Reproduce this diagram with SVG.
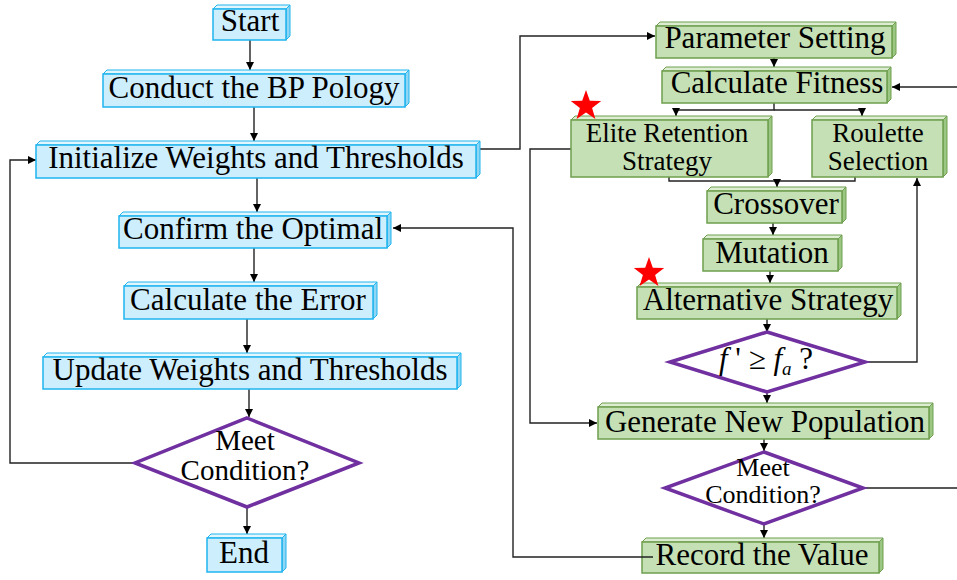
<svg xmlns="http://www.w3.org/2000/svg" width="957" height="580" viewBox="0 0 957 580">
<style>
text{font-family:"Liberation Serif","Times New Roman",serif;font-size:31px;fill:#000;text-anchor:middle}
.dt{font-size:29px}
.t2{font-size:27px}
.dt2{font-size:26px}
.b .f{fill:#CDEEFD;stroke:#1FB4EE;stroke-width:1.5}
.b .t{fill:#E2F6FE;stroke:#1FB4EE;stroke-width:1}
.b .r{fill:#8FD6F5;stroke:#1FB4EE;stroke-width:1}
.g .f{fill:#C5E0B4;stroke:#6E9F4E;stroke-width:1.5}
.g .t{fill:#DCEDD2;stroke:#6E9F4E;stroke-width:1}
.g .r{fill:#9CC783;stroke:#6E9F4E;stroke-width:1}
.d{fill:#fff;stroke:#7030A0;stroke-width:3.5}
.c path{fill:none;stroke:#222;stroke-width:1.4}
.star{fill:#FF0000}
</style>
<defs>
<marker id="a" viewBox="0 0 10 10" refX="10" refY="5" markerWidth="8" markerHeight="8" markerUnits="userSpaceOnUse" orient="auto"><path d="M0,0L10,5L0,10z" fill="#000"/></marker>
</defs>

<g class="c" id="connectors">
<path d="M250,40V70" marker-end="url(#a)"/>
<path d="M254,107V141" marker-end="url(#a)"/>
<path d="M257,178V212" marker-end="url(#a)"/>
<path d="M254,248V282" marker-end="url(#a)"/>
<path d="M247,319V353" marker-end="url(#a)"/>
<path d="M249,389V417" marker-end="url(#a)"/>
<path d="M247,507V534" marker-end="url(#a)"/>
<path d="M135,463H10V160H36" marker-end="url(#a)"/>
<path d="M476,149H520V36H655" marker-end="url(#a)"/>
<path d="M774,58V67" marker-end="url(#a)"/>
<path d="M774,103V110H676V116" marker-end="url(#a)"/>
<path d="M774,110H862V116" marker-end="url(#a)"/>
<path d="M669,177V181H855V177"/>
<path d="M777,181V187" marker-end="url(#a)"/>
<path d="M773,223V235" marker-end="url(#a)"/>
<path d="M770,271V283" marker-end="url(#a)"/>
<path d="M767,319V332" marker-end="url(#a)"/>
<path d="M865,362H917V178" marker-end="url(#a)"/>
<path d="M767,392V403" marker-end="url(#a)"/>
<path d="M571,149H530V423H597" marker-end="url(#a)"/>
<path d="M764,439V451" marker-end="url(#a)"/>
<path d="M863,488H962V87H892" marker-end="url(#a)"/>
<path d="M764,524V538" marker-end="url(#a)"/>
</g>

<g id="start" class="b">
<polygon class="t" points="213,9 217,5 290,5 286,9"/><polygon class="r" points="286,9 290,5 290,36 286,40"/><rect class="f" x="213" y="9" width="73" height="31"/>
<text x="250" y="31">Start</text></g>
<g id="conduct" class="b">
<polygon class="t" points="103,74 107,70 409,70 405,74"/><polygon class="r" points="405,74 409,70 409,103 405,107"/><rect class="f" x="103" y="74" width="302" height="33"/>
<text x="254" y="98">Conduct the BP Pology</text></g>
<g id="init" class="b">
<polygon class="t" points="36,145 40,141 480,141 476,145"/><polygon class="r" points="476,145 480,141 480,174 476,178"/><rect class="f" x="36" y="145" width="440" height="33"/>
<text x="256" y="168">Initialize Weights and Thresholds</text></g>
<g id="confirm" class="b">
<polygon class="t" points="119,216 123,212 391,212 387,216"/><polygon class="r" points="387,216 391,212 391,244 387,248"/><rect class="f" x="119" y="216" width="268" height="32"/>
<text x="253" y="239">Confirm the Optimal</text></g>
<g id="calcerror" class="b">
<polygon class="t" points="124,286 128,282 377,282 373,286"/><polygon class="r" points="373,286 377,282 377,315 373,319"/><rect class="f" x="124" y="286" width="249" height="33"/>
<text x="248" y="310">Calculate the Error</text></g>
<g id="update" class="b">
<polygon class="t" points="43,357 47,353 461,353 457,357"/><polygon class="r" points="457,357 461,353 461,385 457,389"/><rect class="f" x="43" y="357" width="414" height="32"/>
<text x="250" y="380">Update Weights and Thresholds</text></g>
<g id="meet1">
<polygon class="d" points="247,418 359,463 247,507 135,463"/>
<text class="dt" x="245" y="450">Meet<tspan x="245" dy="30">Condition?</tspan></text></g>
<g id="end" class="b">
<polygon class="t" points="207,538 211,534 286,534 282,538"/><polygon class="r" points="282,538 286,534 286,568 282,572"/><rect class="f" x="207" y="538" width="75" height="34"/>
<text x="244" y="563">End</text></g>

<g id="param" class="g">
<polygon class="t" points="656,26 660,22 896,22 892,26"/><polygon class="r" points="892,26 896,22 896,54 892,58"/><rect class="f" x="656" y="26" width="236" height="32"/>
<text x="775" y="48">Parameter Setting</text></g>
<g id="fitness" class="g">
<polygon class="t" points="662,71 666,67 891,67 887,71"/><polygon class="r" points="887,71 891,67 891,99 887,103"/><rect class="f" x="662" y="71" width="225" height="32"/>
<text x="777" y="93">Calculate Fitness</text></g>
<g id="elite" class="g">
<polygon class="t" points="571,120 575,116 772,116 768,120"/><polygon class="r" points="768,120 772,116 772,173 768,177"/><rect class="f" x="571" y="120" width="197" height="57"/>
<text class="t2" x="667" y="142">Elite Retention<tspan x="667" dy="28">Strategy</tspan></text>
<polygon class="star" points="586,90 589.8,100.8 601.2,101.1 592.1,108 595.4,118.9 586,112.5 576.6,118.9 579.9,108 570.8,101.1 582.2,100.8"/></g>
<g id="roulette" class="g">
<polygon class="t" points="812,120 816,116 947,116 943,120"/><polygon class="r" points="943,120 947,116 947,173 943,177"/><rect class="f" x="812" y="120" width="131" height="57"/>
<text class="t2" x="878" y="142">Roulette<tspan x="878" dy="28">Selection</tspan></text></g>
<g id="crossover" class="g">
<polygon class="t" points="707,191 711,187 846,187 842,191"/><polygon class="r" points="842,191 846,187 846,219 842,223"/><rect class="f" x="707" y="191" width="135" height="32"/>
<text x="776" y="214">Crossover</text></g>
<g id="mutation" class="g">
<polygon class="t" points="703,239 707,235 842,235 838,239"/><polygon class="r" points="838,239 842,235 842,267 838,271"/><rect class="f" x="703" y="239" width="135" height="32"/>
<text x="772" y="263">Mutation</text></g>
<g id="alternative" class="g">
<polygon class="t" points="637,287 641,283 901,283 897,287"/><polygon class="r" points="897,287 901,283 901,315 897,319"/><rect class="f" x="637" y="287" width="260" height="32"/>
<text x="768" y="310">Alternative Strategy</text>
<polygon class="star" points="649,257 652.8,267.8 664.2,268.1 655.1,275 658.4,285.9 649,279.5 639.6,285.9 642.9,275 633.8,268.1 645.2,267.8"/></g>
<g id="compare">
<polygon class="d" points="767,332 865,362 767,392 670,362"/>
<text x="766" y="369"><tspan font-style="italic">f</tspan> ' ≥ <tspan font-style="italic">f</tspan><tspan font-style="italic" font-size="19" dy="6">a</tspan><tspan dy="-6"> ?</tspan></text></g>
<g id="generate" class="g">
<polygon class="t" points="598,407 602,403 933,403 929,407"/><polygon class="r" points="929,407 933,403 933,435 929,439"/><rect class="f" x="598" y="407" width="331" height="32"/>
<text x="765" y="432">Generate New Population</text></g>
<g id="meet2">
<polygon class="d" points="764,452 863,488 764,524 665,488"/>
<text class="dt2" x="763" y="476">Meet<tspan x="763" dy="27">Condition?</tspan></text></g>
<g id="record" class="g">
<polygon class="t" points="642,542 646,538 883,538 879,542"/><polygon class="r" points="879,542 883,538 883,569 879,573"/><rect class="f" x="642" y="542" width="237" height="31"/>
<path d="M653,557H513V228H393" fill="none" stroke="#222" stroke-width="1.4" marker-end="url(#a)"/>
<text x="762" y="565">Record the Value</text></g>
</svg>
